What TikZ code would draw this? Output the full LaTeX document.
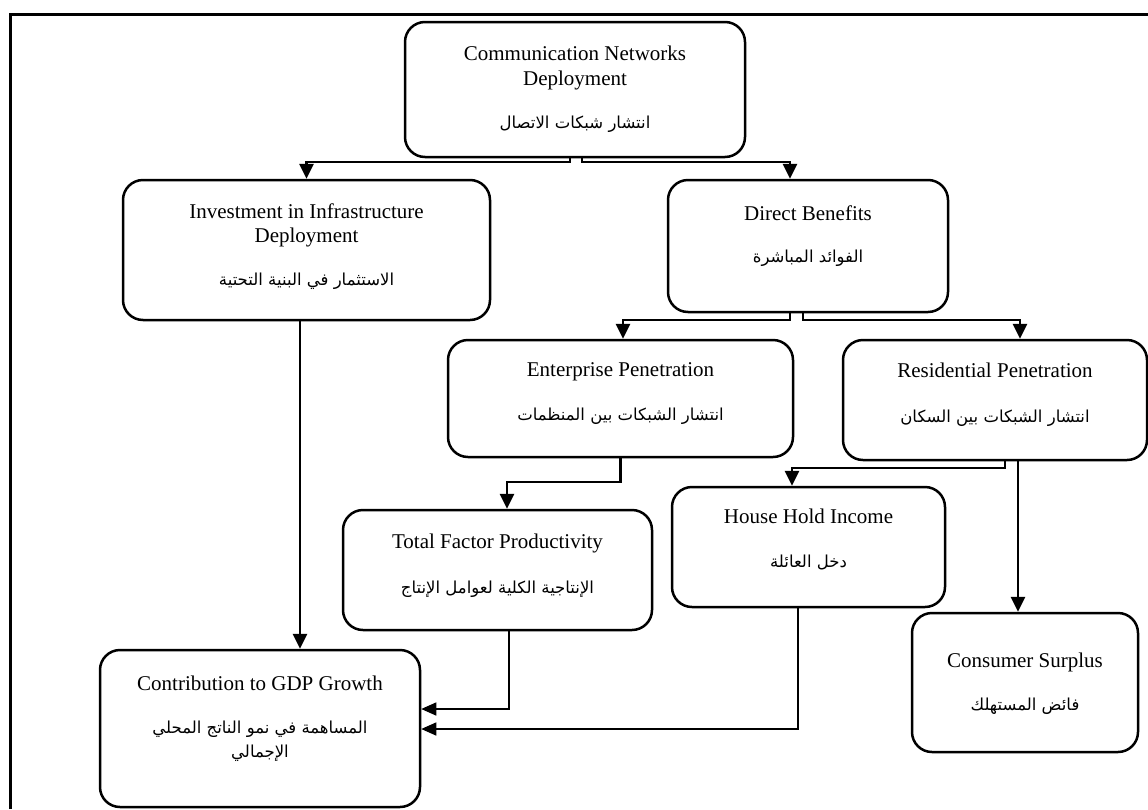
\documentclass[tikz,border=0pt]{standalone}
\usepackage{fontspec}
\setmainfont{Liberation Serif}
\newfontfamily\arabicfont[Script=Arabic]{DejaVu Sans}
\TeXXeTstate=1
\usetikzlibrary{arrows.meta}
\tikzset{
  box/.style={draw, line width=2.5pt, rounded corners=20pt, inner sep=0pt},
  en/.style={anchor=base, inner sep=0pt, font=\fontsize{21}{25}\selectfont},
  ar/.style={anchor=base, inner sep=0pt, font=\fontsize{16.5}{20}\selectfont\arabicfont},
  conn/.style={line width=2.8pt, -{Triangle[width=14pt,length=15pt]}},
  thinconn/.style={line width=1.4pt, -{Triangle[width=13pt,length=15pt]}},
}
\begin{document}
\begin{tikzpicture}[x=1pt,y=-1pt]
\useasboundingbox (0,0) rectangle (1148,809);
% outer frame
\draw[line width=3pt] (10.5,809) -- (10.5,14.7) -- (1148,14.7);

% boxes
\node[box, minimum width=340pt, minimum height=135pt] (top) at (575,89.5) {};
\node[box, minimum width=367pt, minimum height=140pt] (inv) at (306.5,250) {};
\node[box, minimum width=280pt, minimum height=132pt] (dir) at (808,246) {};
\node[box, minimum width=345pt, minimum height=117pt] (ent) at (620.5,398.5) {};
\node[box, minimum width=304pt, minimum height=120pt] (res) at (995,400) {};
\node[box, minimum width=309pt, minimum height=120pt] (tfp) at (497.5,570) {};
\node[box, minimum width=273pt, minimum height=120pt] (hh) at (808.5,547) {};
\node[box, minimum width=320pt, minimum height=157pt] (gdp) at (260,728.5) {};
\node[box, minimum width=226pt, minimum height=139pt] (con) at (1025,682.5) {};

% texts
\node[en] (topA) at (575,60) {Communication Networks};
\node[en] (topB) at (575,85) {Deployment};
\node[ar] (topC) at (575,128) {\beginR انتشار شبكات الاتصال\endR};

\node[en] (invA) at (306.5,218) {Investment in Infrastructure};
\node[en] (invB) at (306.5,242) {Deployment};
\node[ar] (invC) at (306.5,285) {\beginR الاستثمار في البنية التحتية\endR};

\node[en] (dirA) at (808,220) {Direct Benefits};
\node[ar] (dirB) at (808,262) {\beginR الفوائد المباشرة\endR};

\node[en] (entA) at (620.5,376) {Enterprise Penetration};
\node[ar] (entB) at (620.5,420) {\beginR انتشار الشبكات بين المنظمات\endR};

\node[en] (resA) at (995,377) {Residential Penetration};
\node[ar] (resB) at (995,422) {\beginR انتشار الشبكات بين السكان\endR};

\node[en] (tfpA) at (497.5,548) {Total Factor Productivity};
\node[ar] (tfpB) at (497.5,593) {\beginR الإنتاجية الكلية لعوامل الإنتاج\endR};

\node[en] (hhA) at (808.5,523) {House Hold Income};
\node[ar] (hhB) at (808.5,567) {\beginR دخل العائلة\endR};

\node[en] (gdpA) at (260,690) {Contribution to GDP Growth};
\node[ar] (gdpB) at (260,733) {\beginR المساهمة في نمو الناتج المحلي\endR};
\node[ar] (gdpC) at (260,757) {\beginR الإجمالي\endR};

\node[en] (conA) at (1025,667) {Consumer Surplus};
\node[ar] (conB) at (1025,710) {\beginR فائض المستهلك\endR};

% connector end points
\coordinate (j1) at (0,162);
\coordinate (j2) at (0,320);
\coordinate (j3) at (0,482);
\coordinate (j4) at (0,468);
\coordinate (topL) at ([xshift=-5pt]top.south);
\coordinate (topR) at ([xshift=7pt]top.south);
\coordinate (dirIn) at ([xshift=-18pt]dir.north);
\coordinate (dirL) at ([xshift=-18pt]dir.south);
\coordinate (dirR) at ([xshift=-5pt]dir.south);
\coordinate (entIn) at ([xshift=2.5pt]ent.north);
\coordinate (resIn) at ([xshift=25pt]res.north);
\coordinate (tfpIn) at ([xshift=9.5pt]tfp.north);
\coordinate (resL) at ([xshift=10pt]res.south);
\coordinate (resR) at ([xshift=23pt]res.south);
\coordinate (hhIn) at ([xshift=-16.5pt]hh.north);
\coordinate (invOut) at ([xshift=-6.5pt]inv.south);
\coordinate (tfpOut) at ([xshift=11.5pt]tfp.south);
\coordinate (hhOut) at ([xshift=-10.5pt]hh.south);
\coordinate (gdpIn1) at ([yshift=19.5pt]gdp.east);
\coordinate (gdpIn2) at ([yshift=-0.5pt]gdp.east);

% connectors
\draw[conn] (topL) |- (j1 -| inv.north) -- (inv.north);
\draw[conn] (topR) |- (j1 -| dirIn) -- (dirIn);
\draw[conn] (dirL) |- (j2 -| entIn) -- (entIn);
\draw[conn] (dirR) |- (j2 -| resIn) -- (resIn);
\draw[conn] (ent.south) |- (j3 -| tfpIn) -- (tfpIn);
\draw[conn] (resL) |- (j4 -| hhIn) -- (hhIn);
\draw[conn] (resR) -- (resR |- con.north);
\draw[conn] (invOut) -- (invOut |- gdp.north);
\draw[thinconn] (tfpOut) |- (gdpIn1);
\draw[thinconn] (hhOut) |- (gdpIn2);
\end{tikzpicture}
\end{document}
